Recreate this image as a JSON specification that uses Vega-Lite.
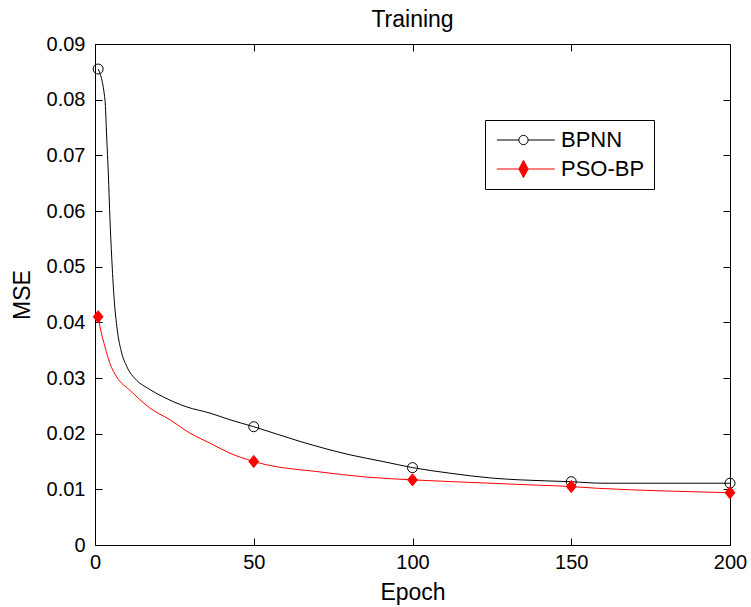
{
  "$schema": "https://vega.github.io/schema/vega-lite/v6.json",
  "autosize": "none",
  "width": 635,
  "height": 501,
  "padding": {"left": 95, "top": 44, "right": 21, "bottom": 62},
  "background": "white",
  "config": {
    "font": "Liberation Sans",
    "view": {"stroke": "#000000", "strokeWidth": 1},
    "axis": {"grid": false, "domain": false, "tickColor": "#000000", "tickSize": -7, "labelColor": "#000000", "labelFont": "Liberation Sans", "labelFontSize": 20, "titleFont": "Liberation Sans", "titleFontSize": 23, "titleFontWeight": "normal", "titleColor": "#000000", "labelOverlap": false, "labelFlush": false},
    "legend": {"labelFont": "Liberation Sans"}
  },
  "title": {"text": "Training", "fontSize": 23, "fontWeight": "normal", "font": "Liberation Sans", "color": "#000000", "offset": 2, "anchor": "middle"},
  "datasets": {
    "curves": [
      {"series": "BPNN", "epoch": 1, "mse": 0.0855},
      {"series": "BPNN", "epoch": 3.15, "mse": 0.0799},
      {"series": "BPNN", "epoch": 3.68, "mse": 0.0733},
      {"series": "BPNN", "epoch": 4.19, "mse": 0.0668},
      {"series": "BPNN", "epoch": 4.72, "mse": 0.0584},
      {"series": "BPNN", "epoch": 5.26, "mse": 0.0517},
      {"series": "BPNN", "epoch": 5.98, "mse": 0.0446},
      {"series": "BPNN", "epoch": 7.02, "mse": 0.0386},
      {"series": "BPNN", "epoch": 8.41, "mse": 0.0345},
      {"series": "BPNN", "epoch": 9.98, "mse": 0.0321},
      {"series": "BPNN", "epoch": 13.1, "mse": 0.0296},
      {"series": "BPNN", "epoch": 16.8, "mse": 0.0281},
      {"series": "BPNN", "epoch": 21.5, "mse": 0.0266},
      {"series": "BPNN", "epoch": 28.9, "mse": 0.0248},
      {"series": "BPNN", "epoch": 36.2, "mse": 0.0237},
      {"series": "BPNN", "epoch": 42.5, "mse": 0.0225},
      {"series": "BPNN", "epoch": 50, "mse": 0.02125},
      {"series": "BPNN", "epoch": 64.6, "mse": 0.0186},
      {"series": "BPNN", "epoch": 80.3, "mse": 0.0162},
      {"series": "BPNN", "epoch": 90.7, "mse": 0.015},
      {"series": "BPNN", "epoch": 100, "mse": 0.0139},
      {"series": "BPNN", "epoch": 111.8, "mse": 0.0129},
      {"series": "BPNN", "epoch": 125.4, "mse": 0.012},
      {"series": "BPNN", "epoch": 133.9, "mse": 0.0117},
      {"series": "BPNN", "epoch": 150, "mse": 0.01137},
      {"series": "BPNN", "epoch": 160, "mse": 0.0111},
      {"series": "BPNN", "epoch": 200, "mse": 0.0111},
      {"series": "PSO-BP", "epoch": 1, "mse": 0.041},
      {"series": "PSO-BP", "epoch": 1.57, "mse": 0.0392},
      {"series": "PSO-BP", "epoch": 3.15, "mse": 0.0356},
      {"series": "PSO-BP", "epoch": 4.72, "mse": 0.0326},
      {"series": "PSO-BP", "epoch": 6.83, "mse": 0.0302},
      {"series": "PSO-BP", "epoch": 11.0, "mse": 0.0278},
      {"series": "PSO-BP", "epoch": 17.3, "mse": 0.0246},
      {"series": "PSO-BP", "epoch": 23.6, "mse": 0.0225},
      {"series": "PSO-BP", "epoch": 29.9, "mse": 0.0201},
      {"series": "PSO-BP", "epoch": 36.2, "mse": 0.0183},
      {"series": "PSO-BP", "epoch": 42.5, "mse": 0.0165},
      {"series": "PSO-BP", "epoch": 50, "mse": 0.015},
      {"series": "PSO-BP", "epoch": 54.1, "mse": 0.0144},
      {"series": "PSO-BP", "epoch": 69.8, "mse": 0.0132},
      {"series": "PSO-BP", "epoch": 85.6, "mse": 0.0122},
      {"series": "PSO-BP", "epoch": 100, "mse": 0.0117},
      {"series": "PSO-BP", "epoch": 111.8, "mse": 0.0114},
      {"series": "PSO-BP", "epoch": 137, "mse": 0.0108},
      {"series": "PSO-BP", "epoch": 150, "mse": 0.0105},
      {"series": "PSO-BP", "epoch": 158, "mse": 0.0102},
      {"series": "PSO-BP", "epoch": 180, "mse": 0.0097},
      {"series": "PSO-BP", "epoch": 200, "mse": 0.0094}
    ],
    "markers": [
      {"curve": "BPNN", "epoch": 1, "mse": 0.0855},
      {"curve": "BPNN", "epoch": 50, "mse": 0.02125},
      {"curve": "BPNN", "epoch": 100, "mse": 0.0139},
      {"curve": "BPNN", "epoch": 150, "mse": 0.01137},
      {"curve": "BPNN", "epoch": 200, "mse": 0.0111},
      {"curve": "PSO-BP", "epoch": 1, "mse": 0.041},
      {"curve": "PSO-BP", "epoch": 50, "mse": 0.015},
      {"curve": "PSO-BP", "epoch": 100, "mse": 0.0117},
      {"curve": "PSO-BP", "epoch": 150, "mse": 0.0105},
      {"curve": "PSO-BP", "epoch": 200, "mse": 0.0094}
    ]
  },
  "layer": [
    {
      "data": {"name": "curves"},
      "mark": {"type": "line", "strokeWidth": 1, "interpolate": "monotone", "clip": true},
      "encoding": {
        "x": {"field": "epoch", "type": "quantitative", "scale": {"domain": [0, 200], "nice": false, "zero": false},
              "axis": {"orient": "bottom", "values": [0, 50, 100, 150, 200], "labelPadding": 14, "title": "Epoch", "titlePadding": 9}},
        "y": {"field": "mse", "type": "quantitative", "scale": {"domain": [0, 0.09], "nice": false},
              "axis": {"orient": "left", "values": [0, 0.01, 0.02, 0.03, 0.04, 0.05, 0.06, 0.07, 0.08, 0.09], "format": ".2~f", "labelPadding": 17, "title": "MSE", "titlePadding": 12}},
        "color": {"field": "series", "type": "nominal",
                  "scale": {"domain": ["BPNN", "PSO-BP"], "range": ["#000000", "#ff0000"]},
                  "legend": {"title": null, "orient": "none", "legendX": 390, "legendY": 76,
                             "strokeColor": "#000000", "fillColor": "#ffffff", "padding": 9,
                             "labelFontSize": 22, "labelColor": "#000000", "labelOffset": 8,
                             "symbolSize": 3364, "symbolStrokeWidth": 1, "clipHeight": 22, "rowPadding": 7,
                             "encode": {"symbols": {"update": {
                               "shape": {"signal": "datum.value === 'BPNN' ? 'M-0.92,0H-0.16M0.16,0H1.08M-0.16,0A0.16,0.16 0 1,0 0.16,0A0.16,0.16 0 1,0 -0.16,0' : 'M-0.92,0H1.08M0,-0.3L0.16,0L0,0.3L-0.16,0Z'"},
                               "fill": {"signal": "datum.value === 'BPNN' ? '#ffffff' : '#ff0000'"},
                               "stroke": {"signal": "datum.value === 'BPNN' ? '#000000' : '#ff0000'"},
                               "size": {"value": 3364}
                             }}}}}
      }
    },
    {
      "data": {"name": "markers"},
      "transform": [{"filter": "datum.curve === 'BPNN'"}],
      "mark": {"type": "point", "shape": "circle", "filled": false, "stroke": "#000000", "strokeWidth": 1, "size": 100, "opacity": 1, "clip": false},
      "encoding": {
        "x": {"field": "epoch", "type": "quantitative", "axis": {"orient": "top", "values": [0, 50, 100, 150, 200], "labels": false, "title": null}},
        "y": {"field": "mse", "type": "quantitative", "axis": {"orient": "right", "values": [0, 0.01, 0.02, 0.03, 0.04, 0.05, 0.06, 0.07, 0.08, 0.09], "labels": false, "title": null}}
      }
    },
    {
      "data": {"name": "markers"},
      "transform": [{"filter": "datum.curve === 'PSO-BP'"}],
      "mark": {"type": "point", "shape": "M0,-1L0.8,0L0,1L-0.8,0Z", "filled": true, "fill": "#ff0000", "stroke": "#ff0000", "strokeWidth": 1, "size": 150, "opacity": 1, "clip": false},
      "encoding": {
        "x": {"field": "epoch", "type": "quantitative", "axis": null},
        "y": {"field": "mse", "type": "quantitative", "axis": null}
      }
    }
  ],
  "resolve": {"axis": {"x": "independent", "y": "independent"}}
}
